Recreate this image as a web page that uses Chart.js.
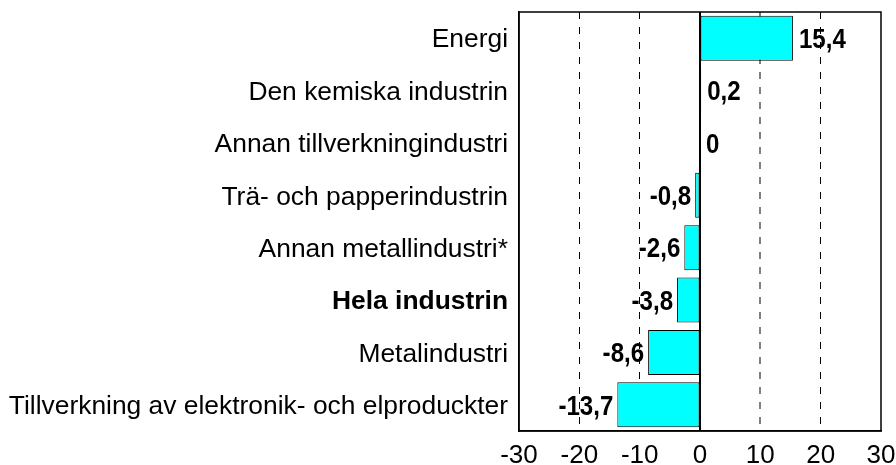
<!DOCTYPE html>
<html>
<head>
<meta charset="utf-8">
<script src="https://cdn.jsdelivr.net/npm/chart.js@4/dist/chart.umd.min.js"></script>
<style>
  body { margin: 0; background: #fff; }
  #wrap { width: 896px; height: 465px; }
</style>
</head>
<body>
<div id="wrap"><canvas id="myChartBar" width="896" height="465"></canvas></div>
<script>
// data
const categories = [
  "Energi",
  "Den kemiska industrin",
  "Annan tillverkningindustri",
  "Trä- och papperindustrin",
  "Annan metallindustri*",
  "Hela industrin",
  "Metalindustri",
  "Tillverkning av elektronik- och elproduckter"
];
const values = [15.4, 0.2, 0, -0.8, -2.6, -3.8, -8.6, -13.7];
const xTicks = [-30, -20, -10, 0, 10, 20, 30];
const boldCategory = "Hela industrin";

function fmt(v) {
  return String(v).replace(".", ",");
}

// frame round the plot + solid zero line
const framePlugin = {
  id: "frame",
  afterDatasetsDraw(chart) {
    const c = chart.ctx;
    const a = chart.chartArea;
    const x0 = chart.scales.x.getPixelForValue(0);
    c.save();
    c.strokeStyle = "#000";
    c.lineWidth = 2;
    c.beginPath();
    c.moveTo(x0, a.top);
    c.lineTo(x0, a.bottom);
    c.stroke();
    c.lineWidth = 1.5;
    c.strokeRect(a.left, a.top, a.right - a.left, a.bottom - a.top);
    c.restore();
  }
};

// value labels next to the bars (narrow bold look)
const squeeze = 0.86;
const valueLabels = {
  id: "valueLabels",
  afterDraw(chart) {
    const c = chart.ctx;
    const meta = chart.getDatasetMeta(0);
    c.save();
    c.font = "bold 28px 'Liberation Sans', Arial, sans-serif";
    c.fillStyle = "#000";
    c.textBaseline = "middle";
    meta.data.forEach(function(bar, i) {
      const v = values[i];
      c.save();
      if (v >= 0) {
        c.textAlign = "left";
        c.translate(bar.x + 6, bar.y + 2);
      } else {
        c.textAlign = "right";
        c.translate(bar.x - 4, bar.y + 2);
      }
      c.scale(squeeze, 1);
      c.fillText(fmt(v), 0, 0);
      c.restore();
    });
    c.restore();
  }
};

const ctx = document.getElementById("myChartBar").getContext("2d");
const myChartBar = new Chart(ctx, {
  type: "bar",
  data: {
    labels: categories,
    datasets: [
      {
        data: values,
        backgroundColor: "#00ffff",
        borderColor: "#000",
        borderWidth: 1,
        borderSkipped: false,
        barPercentage: 0.86,
        categoryPercentage: 1
      }
    ]
  },
  options: {
    indexAxis: "y",
    responsive: false,
    animation: false,
    layout: { padding: { top: 12, right: 15, left: 0, bottom: 0 } },
    plugins: {
      legend: { display: false },
      tooltip: { enabled: false }
    },
    scales: {
      x: {
        min: -30,
        max: 30,
        afterBuildTicks(scale) {
          scale.ticks = xTicks.map(function(v) { return { value: v }; });
        },
        afterFit(scale) {
          scale.height = 34;
          scale.paddingLeft = 0;
          scale.paddingRight = 0;
        },
        grid: {
          drawTicks: false,
          color: function(c) {
            const v = c.tick ? c.tick.value : null;
            if (v === 0 || v === -30 || v === 30) return "rgba(0,0,0,0)";
            if (v === 10) return "#808080";
            return "#000";
          },
          lineWidth: function(c) {
            return c.tick && c.tick.value === 10 ? 2 : 1;
          }
        },
        border: { display: true, color: "#000", width: 1.5, dash: [7, 8] },
        ticks: {
          padding: 9,
          color: "#000",
          font: { family: "'Liberation Sans', Arial, sans-serif", size: 26 },
          callback: function(v) { return String(v); }
        }
      },
      y: {
        afterFit(scale) {
          scale.width = 519;
          scale.paddingTop = 0;
          scale.paddingBottom = 0;
        },
        grid: { display: false, drawTicks: false },
        border: { display: true, color: "#000", width: 1.5 },
        ticks: {
          padding: 11,
          labelOffset: 2,
          color: "#000",
          font: function(c) {
            const bold = c.tick && c.tick.label === boldCategory;
            return {
              family: "'Liberation Sans', Arial, sans-serif",
              size: 26.4,
              weight: bold ? "bold" : "normal"
            };
          }
        }
      }
    }
  },
  plugins: [framePlugin, valueLabels]
});
</script>
</body>
</html>
